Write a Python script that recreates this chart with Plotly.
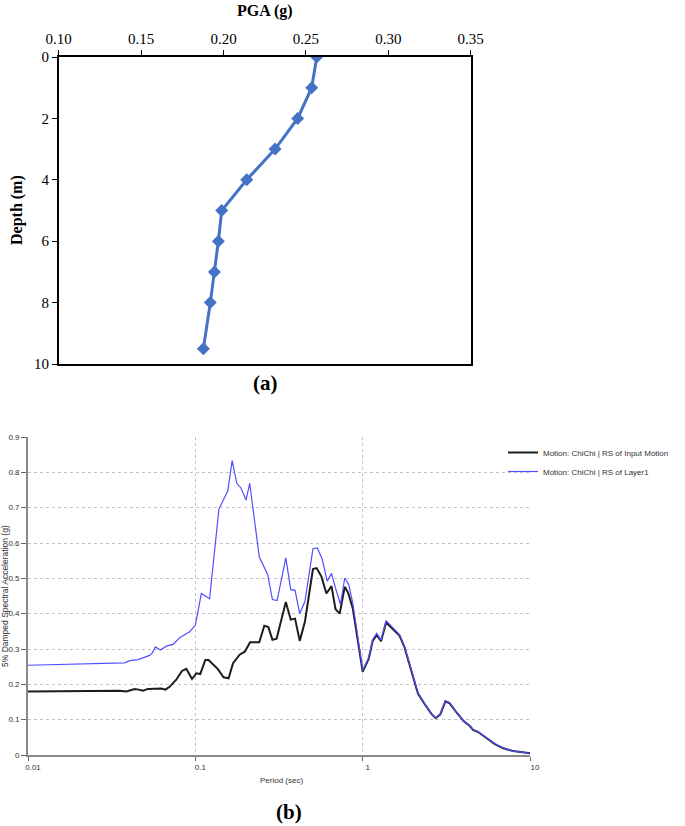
import plotly.graph_objects as go

# (a) PGA profile with depth
depth_m = [0, 1, 2, 3, 4, 5, 6, 7, 8, 9.5]
pga_g = [0.2566, 0.2535, 0.245, 0.2313, 0.2141, 0.1989, 0.1969, 0.1945, 0.192, 0.1878]

# (b) response spectra, ChiChi motion
period_input = [0.01, 0.0353, 0.0387, 0.0434, 0.0458, 0.0487, 0.0521, 0.0626, 0.0662, 0.0702,
                0.0769, 0.0832, 0.0883, 0.0955, 0.1014, 0.107, 0.1147, 0.12, 0.1364, 0.1475,
                0.158, 0.168, 0.184, 0.198, 0.2123, 0.241, 0.2583, 0.273, 0.289, 0.306,
                0.3474, 0.3717, 0.3944, 0.4207, 0.4521, 0.5045, 0.531, 0.567, 0.607, 0.6513,
                0.688, 0.729, 0.781, 0.819, 0.873, 1.0, 1.086, 1.148, 1.213, 1.288,
                1.38, 1.514, 1.66, 1.778, 1.95, 2.14, 2.34, 2.57, 2.73, 2.91,
                3.12, 3.31, 3.63, 4.01, 4.37, 4.57, 4.9, 5.5, 6.17, 6.92, 7.94, 10.0]
sa_input = [0.180, 0.182, 0.180, 0.187, 0.185, 0.182, 0.187, 0.188, 0.185, 0.193,
            0.213, 0.238, 0.244, 0.215, 0.231, 0.229, 0.269, 0.269, 0.243, 0.220,
            0.217, 0.260, 0.284, 0.293, 0.319, 0.319, 0.366, 0.362, 0.326, 0.329,
            0.433, 0.383, 0.386, 0.323, 0.378, 0.526, 0.529, 0.505, 0.457, 0.478,
            0.413, 0.400, 0.476, 0.459, 0.415, 0.236, 0.272, 0.323, 0.340, 0.322,
            0.375, 0.356, 0.338, 0.305, 0.238, 0.174, 0.145, 0.117, 0.104, 0.115,
            0.152, 0.146, 0.121, 0.096, 0.082, 0.071, 0.065, 0.047, 0.031, 0.019, 0.011, 0.005]

period_layer1 = [0.01, 0.0378, 0.0405, 0.0454, 0.0533, 0.0553, 0.0577, 0.0618, 0.0671, 0.0736,
                 0.0806, 0.0925, 0.1, 0.1086, 0.1217, 0.1383, 0.1564, 0.166, 0.177, 0.1876,
                 0.201, 0.2113, 0.241, 0.2703, 0.289, 0.308, 0.3474, 0.3717, 0.3944, 0.4207,
                 0.4521, 0.5045, 0.5355, 0.5734, 0.614, 0.6513, 0.688, 0.7366, 0.7816, 0.826,
                 0.873, 1.0, 1.086, 1.148, 1.213, 1.288, 1.38, 1.514, 1.66, 1.778,
                 1.95, 2.14, 2.34, 2.57, 2.73, 2.91, 3.12, 3.31, 3.63, 4.01,
                 4.37, 4.57, 4.9, 5.5, 6.17, 6.92, 7.94, 10.0]
sa_layer1 = [0.254, 0.261, 0.267, 0.270, 0.282, 0.289, 0.306, 0.297, 0.308, 0.313,
             0.332, 0.349, 0.367, 0.457, 0.442, 0.696, 0.748, 0.833, 0.769, 0.755,
             0.722, 0.769, 0.561, 0.511, 0.440, 0.437, 0.558, 0.468, 0.466, 0.400,
             0.435, 0.584, 0.586, 0.554, 0.492, 0.514, 0.473, 0.426, 0.501, 0.482,
             0.430, 0.240, 0.275, 0.327, 0.344, 0.325, 0.380, 0.360, 0.341, 0.308,
             0.240, 0.176, 0.146, 0.118, 0.105, 0.116, 0.154, 0.148, 0.122, 0.097,
             0.083, 0.072, 0.066, 0.048, 0.032, 0.020, 0.011, 0.005]

pga_ticks = [0.10, 0.15, 0.20, 0.25, 0.30, 0.35]
depth_ticks = [0, 2, 4, 6, 8, 10]
period_ticks = [0.01, 0.1, 1, 10]
period_ticktext = ['0.01', '0.1', '1', '10']
sa_ticks = [0, 0.1, 0.2, 0.3, 0.4, 0.5, 0.6, 0.7, 0.8, 0.9]

W, H = 685, 826
serif = 'Liberation Serif'
sans = 'Liberation Sans'

fig = go.Figure()

fig.add_trace(go.Scatter(x=pga_g, y=depth_m, mode='lines+markers',
                         line=dict(color='#4472C4', width=3),
                         marker=dict(symbol='diamond', size=10, color='#4472C4'),
                         showlegend=False, xaxis='x', yaxis='y'))

fig.add_trace(go.Scatter(x=period_input, y=sa_input, mode='lines',
                         name='Motion: ChiChi | RS of Input Motion',
                         line=dict(color='#1c1c1c', width=2),
                         xaxis='x2', yaxis='y2'))
fig.add_trace(go.Scatter(x=period_layer1, y=sa_layer1, mode='lines',
                         name='Motion: ChiChi | RS of Layer1',
                         line=dict(color='#4f4fff', width=1.2),
                         xaxis='x2', yaxis='y2'))

# pixel -> paper helpers
def px(x):
    return x / W

def py(y):
    return 1 - y / H

fig.update_layout(
    width=W, height=H,
    margin=dict(l=0, r=0, t=0, b=0),
    paper_bgcolor='white', plot_bgcolor='white',
    xaxis=dict(domain=[px(58.7), px(470.7)], range=[0.10, 0.35], side='top',
               tickvals=pga_ticks, tickformat='.2f', automargin=False,
               ticks='outside', ticklen=5, tickwidth=1.3, tickcolor='black',
               showline=True, linecolor='black', linewidth=1.6, mirror=True,
               showgrid=False, zeroline=False,
               tickfont=dict(family=serif, size=15, color='black')),
    yaxis=dict(domain=[py(364), py(57)], range=[10, 0], automargin=False,
               tickvals=depth_ticks,
               ticks='outside', ticklen=5, tickwidth=1.3, tickcolor='black',
               showline=True, linecolor='black', linewidth=1.6, mirror=True,
               showgrid=False, zeroline=False,
               tickfont=dict(family=serif, size=15, color='black')),
    xaxis2=dict(domain=[px(28), px(530)], type='log', range=[-2, 1], automargin=False,
                tickvals=period_ticks, ticktext=period_ticktext,
                ticks='outside', ticklen=4, tickcolor='#666',
                ticklabelshift=5,
                showline=True, linecolor='#888', linewidth=1.5,
                showgrid=True, gridcolor='#c4c4c4', griddash='dot', gridwidth=1,
                zeroline=False, anchor='y2',
                tickfont=dict(family=sans, size=8, color='#333')),
    yaxis2=dict(domain=[py(755), py(437)], range=[0, 0.9], automargin=False,
                tickvals=sa_ticks, tickformat='.1~f',
                ticks='outside', ticklen=5, tickcolor='#666',
                showline=True, linecolor='#888', linewidth=1.8,
                showgrid=True, gridcolor='#c4c4c4', griddash='dot', gridwidth=1,
                zeroline=False, anchor='x2',
                tickfont=dict(family=sans, size=8, color='#333')),
    legend=dict(x=px(503), y=py(438), xanchor='left', yanchor='top',
                bgcolor='rgba(0,0,0,0)', itemwidth=30,
                font=dict(family=sans, size=8, color='#333')),
)

annotations = [
    dict(text='<b>PGA (g)</b>', x=px(265), y=py(11), font=dict(family=serif, size=16, color='black')),
    dict(text='<b>Depth (m)</b>', x=px(17), y=py(210), textangle=-90,
         font=dict(family=serif, size=16, color='black')),
    dict(text='<b>(a)</b>', x=px(265), y=py(383), font=dict(family=serif, size=21, color='black')),
    dict(text='Period (sec)', x=px(281), y=py(780), font=dict(family=sans, size=8, color='#333')),
    dict(text='5% Damped Spectral Acceleration (g)', x=px(5), y=py(596), textangle=-90,
         font=dict(family=sans, size=8.5, color='#333')),
    dict(text='<b>(b)</b>', x=px(289), y=py(812), font=dict(family=serif, size=21, color='black')),
]
for a in annotations:
    fig.add_annotation(xref='paper', yref='paper', showarrow=False,
                       xanchor='center', yanchor='middle', **a)

# drop the browser's default body margin so the figure sits at the window origin
fig.write_html('out.html', config={'displayModeBar': False},
               post_script="document.body.style.margin='0';document.body.style.overflow='hidden';")
